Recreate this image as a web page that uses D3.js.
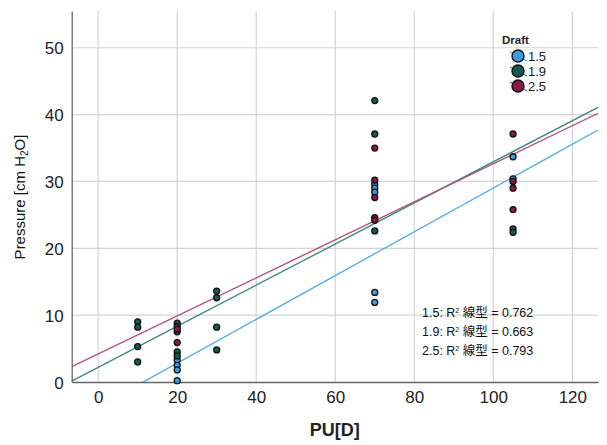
<!DOCTYPE html>
<html><head><meta charset="utf-8">
<script src="https://cdn.jsdelivr.net/npm/d3@7"></script>
<style>
body{margin:0;background:#fff;}
text{font-family:"Liberation Sans",Arial,"Noto Sans CJK JP",sans-serif;}
</style></head>
<body><svg id="c" width="607" height="445"></svg>
<script>
const drafts = ["1.5","1.9","2.5"];
const fillColors = ["#3a9ce0","#135a50","#8a1846"];
const lineColors = ["#5aaee0","#3e8a7e","#b0557f"];
const xTicks = [0,20,40,60,80,100,120];
const yTicks = [0,10,20,30,40,50];
// points: [PU, pressure, draftIndex]
const pts15x = [20,20,20,20,70,70,70,70,70,105,105];
const pts15y = [3.3,2.5,1.8,0.2,29.6,29.0,28.4,13.4,11.9,33.7,30.4];
const pts19x = [10,10,10,10,20,20,20,20,30,30,30,30,70,70,70,105,105];
const pts19y = [9.0,8.2,5.3,3.0,8.8,7.5,4.5,3.9,13.6,12.6,8.2,4.8,42.1,37.1,22.6,22.9,22.4];
const pts25x = [20,20,20,70,70,70,70,70,105,105,105,105];
const pts25y = [8.3,7.9,5.9,35.0,30.2,27.6,24.6,24.2,37.1,30.0,29.0,25.8];
// regression lines: intercept, slope
const intercepts = [-3.73,2.2,4.2];
const slopes = [0.3275,0.3074,0.2845];
const r2 = ["0.762","0.663","0.793"];

const svg = d3.select("#c");
const L=71.7, R=598, T=11, B=382;
const x = d3.scaleLinear().domain([-6.7,126.5]).range([L,R]);
const y = d3.scaleLinear().domain([0,55.5]).range([B,T]);

// grid
svg.append("g").selectAll("line").data(xTicks).join("line")
  .attr("x1",d=>x(d)).attr("x2",d=>x(d)).attr("y1",T).attr("y2",B)
  .attr("stroke","#d4d4d4").attr("stroke-width",1.2);
svg.append("g").selectAll("line").data(yTicks.filter(d=>d>0)).join("line")
  .attr("x1",L).attr("x2",R).attr("y1",d=>y(d)).attr("y2",d=>y(d))
  .attr("stroke","#d4d4d4").attr("stroke-width",1.2);

// axes
const xa = svg.append("g").attr("transform",`translate(0,${B})`)
  .call(d3.axisBottom(x).tickValues(xTicks).tickSize(0).tickPadding(9));
const ya = svg.append("g").attr("transform",`translate(${L},0)`)
  .call(d3.axisLeft(y).tickValues(yTicks).tickSize(0).tickPadding(8));
[xa,ya].forEach(a=>{
  a.select(".domain").attr("stroke","#666").attr("stroke-width",1.3);
  a.selectAll("text").attr("font-size",17).attr("fill","#222")
   .style("font-family","'Liberation Sans',Arial,sans-serif");
});
ya.selectAll("text").attr("dy","0.36em");

// regression lines
const clip = svg.append("clipPath").attr("id","pc").append("rect")
  .attr("x",L).attr("y",T).attr("width",R-L).attr("height",B-T);
const lg = svg.append("g").attr("clip-path","url(#pc)");
drafts.forEach((d,i)=>{
  const x0=-6.7, x1=126.5;
  lg.append("line")
    .attr("x1",x(x0)).attr("y1",y(intercepts[i]+slopes[i]*x0))
    .attr("x2",x(x1)).attr("y2",y(intercepts[i]+slopes[i]*x1))
    .attr("stroke",lineColors[i]).attr("stroke-width",1.4);
});

// points
const all = [];
pts15x.forEach((v,j)=>all.push([v,pts15y[j],0]));
pts19x.forEach((v,j)=>all.push([v,pts19y[j],1]));
pts25x.forEach((v,j)=>all.push([v,pts25y[j],2]));
svg.append("g").selectAll("circle").data(all).join("circle")
  .attr("cx",d=>x(d[0])).attr("cy",d=>y(d[1])).attr("r",3)
  .attr("fill",d=>fillColors[d[2]]).attr("stroke","#111").attr("stroke-width",1.3);

// axis titles
svg.append("text").attr("x",(L+R)/2).attr("y",436).attr("text-anchor","middle")
  .attr("font-size",18).attr("font-weight","bold").attr("fill","#222").text("PU[D]");
const yt = svg.append("text").attr("transform","translate(25,197) rotate(-90)")
  .attr("text-anchor","middle").attr("font-size",15).attr("fill","#111");
yt.append("tspan").text("Pressure [cm H");
yt.append("tspan").attr("font-size",10).attr("dy",3).text("2");
yt.append("tspan").attr("dy",-3).text("O]");

// legend
svg.append("text").attr("x",502).attr("y",44).attr("font-size",11.5).attr("font-weight","bold")
  .attr("fill","#222").text("Draft");
drafts.forEach((d,i)=>{
  const cy = 56 + i*15, cx = 518;
  const g = svg.append("g");
  g.append("line").attr("x1",cx-8).attr("y1",cy-4).attr("x2",cx+9).attr("y2",cy+5)
    .attr("stroke",lineColors[i]).attr("stroke-width",1.3);
  g.append("circle").attr("cx",cx).attr("cy",cy).attr("r",6)
    .attr("fill",fillColors[i]).attr("stroke","#111").attr("stroke-width",1.4);
  g.append("text").attr("x",cx+10).attr("y",cy+5).attr("font-size",13).attr("fill","#222").text(d);
});

// R2 annotations
drafts.forEach((d,i)=>{
  const t = svg.append("text").attr("x",422).attr("y",317+i*19).attr("font-size",12.5).attr("fill","#111");
  t.append("tspan").text(d+": R");
  t.append("tspan").attr("font-size",7).attr("dy",-4).text("2");
  t.append("tspan").attr("dy",4).text(" 線型 = "+r2[i]);
});
</script></body></html>
